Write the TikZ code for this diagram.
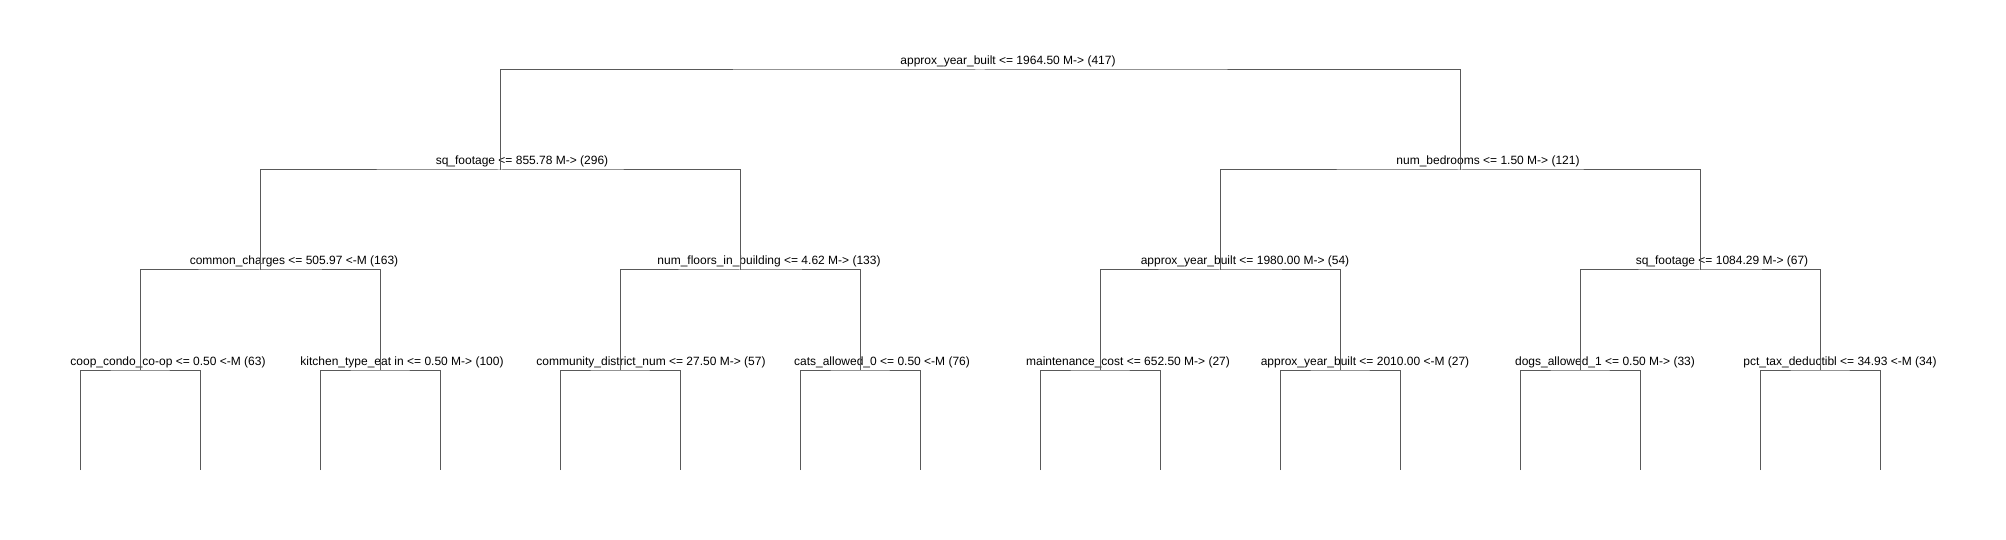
\documentclass[tikz,border=0pt]{standalone}
\usepackage{fontspec}
\setmainfont{Liberation Sans}
\usepackage{tikz}
\usetikzlibrary{positioning}

\begin{document}
\begin{tikzpicture}[
    x=1pt, y=-1pt,
    split/.style={anchor=base, inner sep=0pt, font=\fontsize{12}{14}\selectfont},
    edge/.style={draw=black!65, line width=1pt}
]
\useasboundingbox (0,0) rectangle (2006,540);

% split points
\coordinate (root) at (980,70);
\coordinate (l) at (500,170);
\coordinate (r) at (1460,170);
\coordinate (ll) at (260,270);
\coordinate (lr) at (740,270);
\coordinate (rl) at (1220,270);
\coordinate (rr) at (1700,270);
\coordinate (lll) at (140,370);
\coordinate (llr) at (380,370);
\coordinate (lrl) at (620,370);
\coordinate (lrr) at (860,370);
\coordinate (rll) at (1100,370);
\coordinate (rlr) at (1340,370);
\coordinate (rrl) at (1580,370);
\coordinate (rrr) at (1820,370);

% leaf ends
\foreach \n/\x in {lll/140, llr/380, lrl/620, lrr/860, rll/1100, rlr/1340, rrl/1580, rrr/1820} {
    \coordinate (\n_a) at (\x-60,470);
    \coordinate (\n_b) at (\x+60,470);
}

% split labels
\node[split] (root_txt) at (1008,65) {approx\_year\_built <= 1964.50 M-> (417)};
\node[split] (l_txt) at (522,165) {sq\_footage <= 855.78 M-> (296)};
\node[split] (r_txt) at (1488,165) {num\_bedrooms <= 1.50 M-> (121)};
\node[split] (ll_txt) at (294,265) {common\_charges <= 505.97 <-M (163)};
\node[split] (lr_txt) at (769,265) {num\_floors\_in\_building <= 4.62 M-> (133)};
\node[split] (rl_txt) at (1245,265) {approx\_year\_built <= 1980.00 M-> (54)};
\node[split] (rr_txt) at (1722,265) {sq\_footage <= 1084.29 M-> (67)};
\node[split] (lll_txt) at (168,365) {coop\_condo\_co-op <= 0.50 <-M (63)};
\node[split] (llr_txt) at (402,365) {kitchen\_type\_eat in <= 0.50 M-> (100)};
\node[split] (lrl_txt) at (651,365) {community\_district\_num <= 27.50 M-> (57)};
\node[split] (lrr_txt) at (882,365) {cats\_allowed\_0 <= 0.50 <-M (76)};
\node[split] (rll_txt) at (1128,365) {maintenance\_cost <= 652.50 M-> (27)};
\node[split] (rlr_txt) at (1365,365) {approx\_year\_built <= 2010.00 <-M (27)};
\node[split] (rrl_txt) at (1605,365) {dogs\_allowed\_1 <= 0.50 M-> (33)};
\node[split] (rrr_txt) at (1840,365) {pct\_tax\_deductibl <= 34.93 <-M (34)};

% branches
\draw[edge] (l) |- (root) -| (r);
\draw[edge] (ll) |- (l) -| (lr);
\draw[edge] (rl) |- (r) -| (rr);
\foreach \p in {ll, lr, rl, rr} {
    \draw[edge] (\p l) |- (\p) -| (\p r);
}
\foreach \p in {lll, llr, lrl, lrr, rll, rlr, rrl, rrr} {
    \draw[edge] (\p_a) |- (\p) -| (\p_b);
}

\end{tikzpicture}
\end{document}
